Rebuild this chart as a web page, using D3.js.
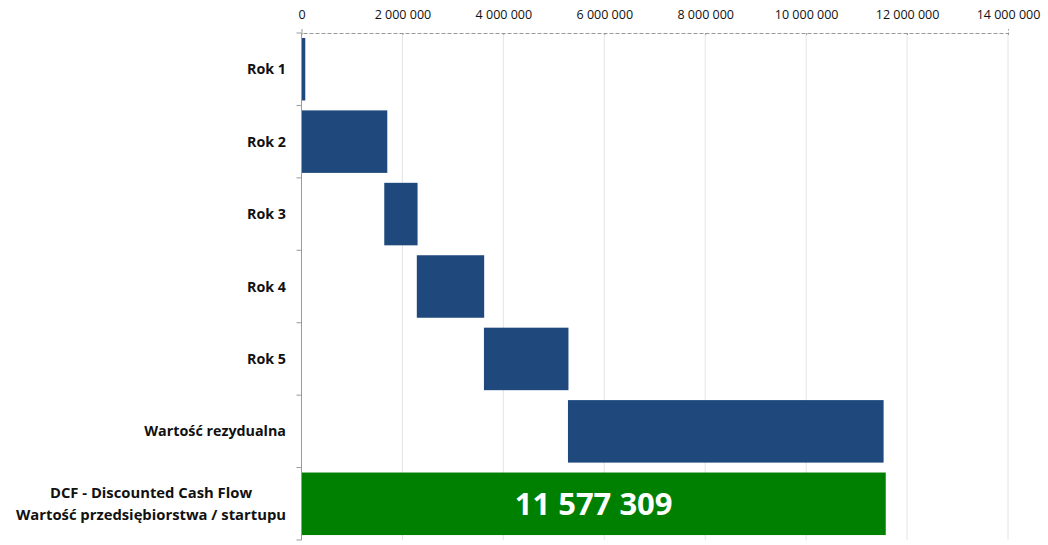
<!DOCTYPE html>
<html><head><meta charset="utf-8">
<script src="https://cdn.jsdelivr.net/npm/d3@7"></script>
<style>
body{margin:0;background:#fff;}
svg{display:block;font-family:"Open Sans",sans-serif;}
</style></head>
<body><svg id="c" width="1048" height="545"></svg>
<script>
const categories = ["Rok 1","Rok 2","Rok 3","Rok 4","Rok 5","Wartość rezydualna","DCF - Discounted Cash Flow\nWartość przedsiębiorstwa / startupu"];
const baseValues = [0, 0, 1640000, 2285000, 3615000, 5280000, 0];
const barValues  = [75000, 1700000, 660000, 1335000, 1675000, 6255000, 11577309];
const barColors  = ["#1F497D","#1F497D","#1F497D","#1F497D","#1F497D","#1F497D","#008000"];
const tickValues = [0,2000000,4000000,6000000,8000000,10000000,12000000,14000000];
const totalLabel = "11 577 309";

const svg = d3.select("#c");
const mLeft = 301.5, mRight = 1008, mTop = 33, mBottom = 540;
const x = d3.scaleLinear().domain([0,14000000]).range([mLeft,mRight]);
const y = d3.scaleBand().domain(categories).range([mTop,mBottom]).paddingInner(0.137).paddingOuter(0.0685);
const loc = d3.formatLocale({decimal:",",thousands:"\u00a0",grouping:[3],currency:["",""]});
const fmt = loc.format(",d");

// gridlines
svg.append("g").selectAll("line").data(tickValues.filter(d=>d>0)).join("line")
  .attr("x1",d=>x(d)).attr("x2",d=>x(d)).attr("y1",mTop).attr("y2",mBottom)
  .attr("stroke","#e4e4e4").attr("stroke-width",1);

// bars
svg.append("g").selectAll("rect").data(categories).join("rect")
  .attr("x",(d,i)=>x(baseValues[i]))
  .attr("width",(d,i)=>x(baseValues[i]+barValues[i])-x(baseValues[i]))
  .attr("y",d=>y(d)).attr("height",y.bandwidth())
  .attr("fill",(d,i)=>barColors[i]);

// total label
const last = categories[categories.length-1];
svg.append("text").attr("x",(x(0)+x(barValues[6]))/2).attr("y",y(last)+y.bandwidth()/2)
  .attr("dy","0.36em").attr("text-anchor","middle").attr("fill","#fff")
  .attr("font-weight","bold").attr("font-size","31px").text(totalLabel);

// top axis
const ax = svg.append("g").attr("transform",`translate(0,${mTop})`)
  .call(d3.axisTop(x).tickValues(tickValues).tickFormat(fmt).tickSize(4).tickPadding(10));
ax.select(".domain").attr("stroke","#9a9a9a").attr("stroke-dasharray","4,2");
ax.selectAll(".tick line").attr("stroke","#9a9a9a").attr("y2",2);
ax.selectAll(".tick text").attr("fill","#111").attr("font-size","12.5px").attr("font-family","Open Sans");

// left axis line + boundary ticks
svg.append("line").attr("x1",mLeft).attr("x2",mLeft).attr("y1",mTop).attr("y2",mBottom).attr("stroke","#9a9a9a");
svg.append("g").selectAll("line").data(d3.range(categories.length+1)).join("line")
  .attr("x1",mLeft-5).attr("x2",mLeft).attr("y1",i=>mTop+i*y.step()).attr("y2",i=>mTop+i*y.step())
  .attr("stroke","#9a9a9a");

// category labels
const lg = svg.append("g");
categories.forEach(c=>{
  const lines = c.split("\n");
  const cy = y(c)+y.bandwidth()/2;
  const t = lg.append("text").attr("font-weight","bold").attr("font-size", lines.length>1 ? "14.8px" : "14.3px").attr("fill","#111");
  const lh = 22;
  lines.forEach((l,j)=>{
    t.append("tspan").attr("x",0).attr("y",cy+(j-(lines.length-1)/2)*lh).attr("dy","0.35em").text(l);
  });
  const widths = t.selectAll("tspan").nodes().map(n=>n.getComputedTextLength());
  const maxW = d3.max(widths);
  const cx = 286 - maxW/2;
  t.attr("text-anchor","middle").selectAll("tspan").attr("x",cx);
});
</script></body></html>
